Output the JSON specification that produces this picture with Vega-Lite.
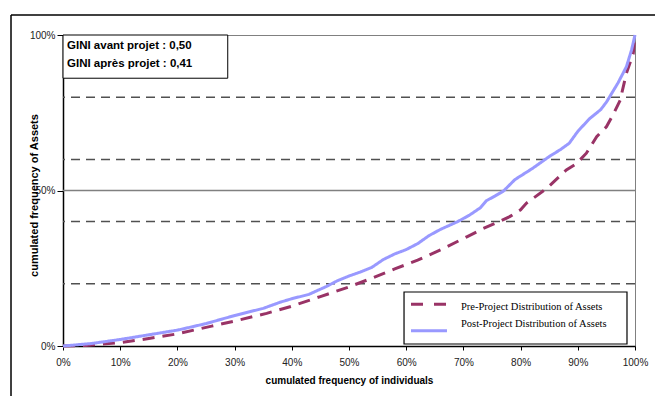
{
  "$schema": "https://vega.github.io/schema/vega-lite/v6.json",
  "width": 572,
  "height": 311,
  "autosize": {"type": "none"},
  "padding": {"left": 63, "top": 35, "right": 20, "bottom": 50},
  "background": "white",
  "config": {
    "font": "Liberation Sans",
    "view": {"stroke": "#808080", "strokeWidth": 1}
  },
  "datasets": {
    "curves": [
      {"x": 0, "y": 0, "series": "Pre-Project Distribution of Assets"},
      {"x": 0.04, "y": 0.002, "series": "Pre-Project Distribution of Assets"},
      {"x": 0.10, "y": 0.011, "series": "Pre-Project Distribution of Assets"},
      {"x": 0.15, "y": 0.024, "series": "Pre-Project Distribution of Assets"},
      {"x": 0.20, "y": 0.039, "series": "Pre-Project Distribution of Assets"},
      {"x": 0.26, "y": 0.064, "series": "Pre-Project Distribution of Assets"},
      {"x": 0.30, "y": 0.080, "series": "Pre-Project Distribution of Assets"},
      {"x": 0.356, "y": 0.105, "series": "Pre-Project Distribution of Assets"},
      {"x": 0.40, "y": 0.128, "series": "Pre-Project Distribution of Assets"},
      {"x": 0.45, "y": 0.159, "series": "Pre-Project Distribution of Assets"},
      {"x": 0.50, "y": 0.190, "series": "Pre-Project Distribution of Assets"},
      {"x": 0.54, "y": 0.218, "series": "Pre-Project Distribution of Assets"},
      {"x": 0.58, "y": 0.248, "series": "Pre-Project Distribution of Assets"},
      {"x": 0.62, "y": 0.276, "series": "Pre-Project Distribution of Assets"},
      {"x": 0.66, "y": 0.309, "series": "Pre-Project Distribution of Assets"},
      {"x": 0.706, "y": 0.351, "series": "Pre-Project Distribution of Assets"},
      {"x": 0.735, "y": 0.378, "series": "Pre-Project Distribution of Assets"},
      {"x": 0.76, "y": 0.398, "series": "Pre-Project Distribution of Assets"},
      {"x": 0.781, "y": 0.416, "series": "Pre-Project Distribution of Assets"},
      {"x": 0.80, "y": 0.438, "series": "Pre-Project Distribution of Assets"},
      {"x": 0.81, "y": 0.459, "series": "Pre-Project Distribution of Assets"},
      {"x": 0.846, "y": 0.507, "series": "Pre-Project Distribution of Assets"},
      {"x": 0.88, "y": 0.566, "series": "Pre-Project Distribution of Assets"},
      {"x": 0.898, "y": 0.587, "series": "Pre-Project Distribution of Assets"},
      {"x": 0.915, "y": 0.620, "series": "Pre-Project Distribution of Assets"},
      {"x": 0.933, "y": 0.673, "series": "Pre-Project Distribution of Assets"},
      {"x": 0.95, "y": 0.705, "series": "Pre-Project Distribution of Assets"},
      {"x": 0.962, "y": 0.745, "series": "Pre-Project Distribution of Assets"},
      {"x": 0.974, "y": 0.79, "series": "Pre-Project Distribution of Assets"},
      {"x": 0.985, "y": 0.877, "series": "Pre-Project Distribution of Assets"},
      {"x": 0.997, "y": 0.941, "series": "Pre-Project Distribution of Assets"},
      {"x": 1.0, "y": 1.0, "series": "Pre-Project Distribution of Assets"},
      {"x": 0, "y": 0, "series": "Post-Project Distribution of Assets"},
      {"x": 0.05, "y": 0.008, "series": "Post-Project Distribution of Assets"},
      {"x": 0.10, "y": 0.021, "series": "Post-Project Distribution of Assets"},
      {"x": 0.15, "y": 0.036, "series": "Post-Project Distribution of Assets"},
      {"x": 0.20, "y": 0.051, "series": "Post-Project Distribution of Assets"},
      {"x": 0.25, "y": 0.072, "series": "Post-Project Distribution of Assets"},
      {"x": 0.30, "y": 0.098, "series": "Post-Project Distribution of Assets"},
      {"x": 0.35, "y": 0.121, "series": "Post-Project Distribution of Assets"},
      {"x": 0.38, "y": 0.141, "series": "Post-Project Distribution of Assets"},
      {"x": 0.40, "y": 0.152, "series": "Post-Project Distribution of Assets"},
      {"x": 0.43, "y": 0.166, "series": "Post-Project Distribution of Assets"},
      {"x": 0.46, "y": 0.191, "series": "Post-Project Distribution of Assets"},
      {"x": 0.48, "y": 0.210, "series": "Post-Project Distribution of Assets"},
      {"x": 0.50, "y": 0.225, "series": "Post-Project Distribution of Assets"},
      {"x": 0.52, "y": 0.238, "series": "Post-Project Distribution of Assets"},
      {"x": 0.54, "y": 0.253, "series": "Post-Project Distribution of Assets"},
      {"x": 0.56, "y": 0.278, "series": "Post-Project Distribution of Assets"},
      {"x": 0.58, "y": 0.296, "series": "Post-Project Distribution of Assets"},
      {"x": 0.60, "y": 0.310, "series": "Post-Project Distribution of Assets"},
      {"x": 0.62, "y": 0.329, "series": "Post-Project Distribution of Assets"},
      {"x": 0.64, "y": 0.355, "series": "Post-Project Distribution of Assets"},
      {"x": 0.66, "y": 0.375, "series": "Post-Project Distribution of Assets"},
      {"x": 0.69, "y": 0.400, "series": "Post-Project Distribution of Assets"},
      {"x": 0.71, "y": 0.420, "series": "Post-Project Distribution of Assets"},
      {"x": 0.73, "y": 0.445, "series": "Post-Project Distribution of Assets"},
      {"x": 0.74, "y": 0.467, "series": "Post-Project Distribution of Assets"},
      {"x": 0.755, "y": 0.482, "series": "Post-Project Distribution of Assets"},
      {"x": 0.77, "y": 0.498, "series": "Post-Project Distribution of Assets"},
      {"x": 0.79, "y": 0.535, "series": "Post-Project Distribution of Assets"},
      {"x": 0.82, "y": 0.570, "series": "Post-Project Distribution of Assets"},
      {"x": 0.85, "y": 0.609, "series": "Post-Project Distribution of Assets"},
      {"x": 0.87, "y": 0.632, "series": "Post-Project Distribution of Assets"},
      {"x": 0.885, "y": 0.652, "series": "Post-Project Distribution of Assets"},
      {"x": 0.90, "y": 0.690, "series": "Post-Project Distribution of Assets"},
      {"x": 0.92, "y": 0.730, "series": "Post-Project Distribution of Assets"},
      {"x": 0.94, "y": 0.760, "series": "Post-Project Distribution of Assets"},
      {"x": 0.95, "y": 0.784, "series": "Post-Project Distribution of Assets"},
      {"x": 0.97, "y": 0.845, "series": "Post-Project Distribution of Assets"},
      {"x": 0.985, "y": 0.898, "series": "Post-Project Distribution of Assets"},
      {"x": 0.994, "y": 0.952, "series": "Post-Project Distribution of Assets"},
      {"x": 1.0, "y": 1.0, "series": "Post-Project Distribution of Assets"}
    ],
    "dashedGrid": [{"level": 0.2}, {"level": 0.4}, {"level": 0.6}, {"level": 0.8}]
  },
  "layer": [
    {
      "data": {"name": "curves"},
      "mark": {"type": "line", "strokeWidth": 3, "clip": false, "opacity": 0},
      "encoding": {
        "x": {
          "field": "x", "type": "quantitative",
          "scale": {"domain": [0, 1], "nice": false, "zero": false},
          "axis": {
            "title": "cumulated frequency of individuals",
            "values": [0, 0.1, 0.2, 0.3, 0.4, 0.5, 0.6, 0.7, 0.8, 0.9, 1],
            "format": ".0%",
            "grid": false,
            "domainColor": "#000000", "domainWidth": 1.5,
            "tickColor": "#000000", "tickSize": 4, "tickWidth": 1,
            "labelFontSize": 10, "labelColor": "#222222", "labelPadding": 7,
            "labelFlush": false,
            "titleFontSize": 10, "titleFontWeight": "bold", "titleColor": "#000000", "titlePadding": 8
          }
        },
        "y": {
          "field": "y", "type": "quantitative",
          "scale": {"domain": [0, 1], "nice": false, "zero": false},
          "axis": {
            "title": "cumulated frequency of Assets",
            "values": [0, 0.5, 1],
            "format": ".0%",
            "grid": false,
            "domainColor": "#000000", "domainWidth": 1.5,
            "tickColor": "#000000", "tickSize": 6, "tickWidth": 1,
            "labelFontSize": 10, "labelColor": "#222222", "labelPadding": 2,
            "labelFlush": false,
            "titleFontSize": 11, "titleFontWeight": "bold", "titleColor": "#000000",
            "titleX": -29, "titleY": 160, "titleAlign": "center", "titleBaseline": "middle", "titleAngle": 270
          }
        },
        "detail": {"field": "series", "type": "nominal"}
      }
    },
    {
      "data": {"name": "dashedGrid"},
      "mark": {"type": "rule", "color": "#505050", "strokeWidth": 1.5, "strokeDash": [9, 6]},
      "encoding": {
        "y": {"field": "level", "type": "quantitative", "scale": {"domain": [0, 1], "nice": false, "zero": false}}
      }
    },
    {
      "data": {"values": [{}]},
      "mark": {"type": "rule", "color": "#808080", "strokeWidth": 1.5},
      "encoding": {
        "y": {"datum": 0.5, "type": "quantitative", "scale": {"domain": [0, 1], "nice": false, "zero": false}}
      }
    },
    {
      "data": {"name": "curves"},
      "mark": {"type": "line", "strokeWidth": 3, "clip": false},
      "encoding": {
        "x": {"field": "x", "type": "quantitative", "scale": {"domain": [0, 1], "nice": false, "zero": false}},
        "y": {"field": "y", "type": "quantitative", "scale": {"domain": [0, 1], "nice": false, "zero": false}},
        "color": {
          "field": "series", "type": "nominal",
          "scale": {"domain": ["Pre-Project Distribution of Assets", "Post-Project Distribution of Assets"], "range": ["#993366", "#9999FF"]},
          "legend": null
        },
        "strokeDash": {
          "field": "series", "type": "nominal",
          "scale": {"domain": ["Pre-Project Distribution of Assets", "Post-Project Distribution of Assets"], "range": [[12, 8], [1, 0]]},
          "legend": null
        }
      }
    },
    {
      "data": {"values": [{}]},
      "mark": {"type": "rect", "fill": "white", "stroke": "#000000", "strokeWidth": 1},
      "encoding": {
        "x": {"datum": 0, "type": "quantitative", "scale": {"domain": [0, 1], "nice": false, "zero": false}},
        "x2": {"datum": 0.288},
        "y": {"datum": 1, "type": "quantitative", "scale": {"domain": [0, 1], "nice": false, "zero": false}},
        "y2": {"datum": 0.861}
      }
    },
    {
      "data": {"values": [{"lines": ["GINI avant projet : 0,50", "GINI après projet : 0,41"]}]},
      "mark": {"type": "text", "align": "left", "baseline": "alphabetic", "fontSize": 11.5, "fontWeight": "bold", "color": "#000000", "lineHeight": 17.4},
      "encoding": {
        "x": {"datum": 0.007, "type": "quantitative", "scale": {"domain": [0, 1], "nice": false, "zero": false}},
        "y": {"datum": 0.954, "type": "quantitative", "scale": {"domain": [0, 1], "nice": false, "zero": false}},
        "text": {"field": "lines"}
      }
    },
    {
      "data": {"values": [{}]},
      "mark": {"type": "rect", "fill": "white", "stroke": "#000000", "strokeWidth": 1.2},
      "encoding": {
        "x": {"datum": 0.5962, "type": "quantitative", "scale": {"domain": [0, 1], "nice": false, "zero": false}},
        "x2": {"datum": 0.986},
        "y": {"datum": 0.1736, "type": "quantitative", "scale": {"domain": [0, 1], "nice": false, "zero": false}},
        "y2": {"datum": 0.0064}
      }
    },
    {
      "data": {"values": [{}]},
      "mark": {"type": "rule", "color": "#993366", "strokeWidth": 3, "strokeDash": [12, 11]},
      "encoding": {
        "x": {"datum": 0.6084, "type": "quantitative", "scale": {"domain": [0, 1], "nice": false, "zero": false}},
        "x2": {"datum": 0.6713},
        "y": {"datum": 0.134, "type": "quantitative", "scale": {"domain": [0, 1], "nice": false, "zero": false}}
      }
    },
    {
      "data": {"values": [{}]},
      "mark": {"type": "rule", "color": "#9999FF", "strokeWidth": 3},
      "encoding": {
        "x": {"datum": 0.6084, "type": "quantitative", "scale": {"domain": [0, 1], "nice": false, "zero": false}},
        "x2": {"datum": 0.6713},
        "y": {"datum": 0.0492, "type": "quantitative", "scale": {"domain": [0, 1], "nice": false, "zero": false}}
      }
    },
    {
      "data": {"values": [{"lines": ["Pre-Project Distribution of Assets", "Post-Project Distribution of Assets"]}]},
      "mark": {"type": "text", "align": "left", "baseline": "alphabetic", "font": "Liberation Serif", "fontSize": 10.5, "color": "#000000", "lineHeight": 17},
      "encoding": {
        "x": {"datum": 0.6958, "type": "quantitative", "scale": {"domain": [0, 1], "nice": false, "zero": false}},
        "y": {"datum": 0.1158, "type": "quantitative", "scale": {"domain": [0, 1], "nice": false, "zero": false}},
        "text": {"field": "lines"}
      }
    },
    {
      "data": {"values": [{}]},
      "mark": {"type": "rule", "color": "#000000", "strokeWidth": 1.5, "clip": false},
      "encoding": {
        "x": {"datum": -0.0909, "type": "quantitative", "scale": {"domain": [0, 1], "nice": false, "zero": false}},
        "y": {"datum": 1.0643, "type": "quantitative", "scale": {"domain": [0, 1], "nice": false, "zero": false}},
        "y2": {"datum": -0.2}
      }
    },
    {
      "data": {"values": [{}]},
      "mark": {"type": "rule", "color": "#000000", "strokeWidth": 1.5, "clip": false},
      "encoding": {
        "x": {"datum": -0.0909, "type": "quantitative", "scale": {"domain": [0, 1], "nice": false, "zero": false}},
        "x2": {"datum": 1.1},
        "y": {"datum": 1.0643, "type": "quantitative", "scale": {"domain": [0, 1], "nice": false, "zero": false}}
      }
    }
  ]
}
